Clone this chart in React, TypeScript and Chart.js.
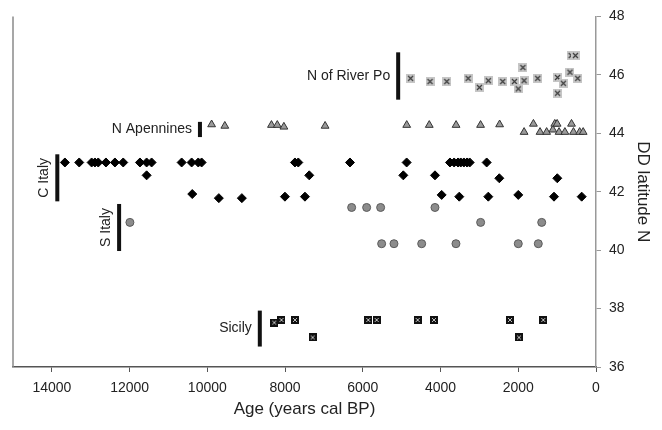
import React, { useEffect, useRef } from 'react';
import { Chart, registerables } from 'chart.js';
Chart.register(...registerables);

// N of River Po (crosses)
const poYears = [4770, 4270, 3840, 3290, 3000, 2770, 2400, 2100, 1880, 1850, 2000, 1500, 990, 840, 990, 670, 470, 640, 530];
const poLat = [45.88, 45.77, 45.77, 45.88, 45.57, 45.80, 45.77, 45.77, 46.25, 45.80, 45.52, 45.88, 45.91, 45.71, 45.37, 46.09, 45.88, 46.66, 46.66];

// N Apennines (triangles)
const apYears = [9890, 9550, 8350, 8200, 8030, 6970, 4870, 4290, 3600, 2970, 2480, 1850, 1610, 1440, 1270, 1110, 1060, 1000, 950, 800, 630, 580, 420, 330];
const apLat = [44.3, 44.25, 44.28, 44.28, 44.22, 44.25, 44.28, 44.28, 44.28, 44.28, 44.3, 44.04, 44.32, 44.04, 44.04, 44.12, 44.32, 44.32, 44.04, 44.04, 44.32, 44.04, 44.04, 44.04];

// C Italy (diamonds)
const ciYears = [13665, 13296, 12977, 12892, 12807, 12609, 12378, 12164, 11734, 11562, 11434, 10661, 10404, 10233, 10147, 7746, 7660, 6330, 4872, 3757, 3650, 3550, 3480, 3400, 3320, 3250, 2813,
  11562, 7378, 4958, 4143,
  2488, 996,
  10388, 9704, 9112, 8003, 7488, 3971, 3518, 2771, 2000, 1081, 368];
const ciLat = [43, 43, 43, 43, 43, 43, 43, 43, 43, 43, 43, 43, 43, 43, 43, 43, 43, 43, 43, 43, 43, 43, 43, 43, 43, 43, 43,
  42.56, 42.56, 42.56, 42.56,
  42.46, 42.46,
  41.92, 41.78, 41.78, 41.83, 41.83, 41.89, 41.83, 41.83, 41.89, 41.83, 41.83];

// S Italy (circles)
const siYears = [11992, 6287, 5901, 5541, 4143, 2968, 1397, 5515, 5198, 4485, 3603, 2000, 1485];
const siLat = [40.95, 41.46, 41.46, 41.46, 41.46, 40.95, 40.95, 40.22, 40.22, 40.22, 40.22, 40.22, 40.22];

// Sicily (squares)
const scYears = [8278, 8093, 7746, 7290, 5859, 5644, 4589, 4169, 2213, 1356, 1981];
const scLat = [37.52, 37.61, 37.61, 37.01, 37.61, 37.61, 37.61, 37.61, 37.61, 37.61, 37.01];

// Region labels with bars
const regionNames = ['N of River Po', 'N Apennines', 'C Italy', 'S Italy', 'Sicily'];
const regionYears = [5090, 10190, 13860, 12270, 8650];
const regionLatTop = [46.77, 44.39, 43.28, 41.58, 37.93];
const regionLatBottom = [45.15, 43.87, 41.67, 39.97, 36.7];
const regionVertical = [false, false, true, true, false];

const xTicks = [0, 2000, 4000, 6000, 8000, 10000, 12000, 14000];
const yTicks = [36, 38, 40, 42, 44, 46, 48];

const FONT = '"Liberation Sans", Arial, sans-serif';

function pts(xs: number[], ys: number[]) {
  return xs.map((x, i) => ({ x, y: ys[i] }));
}

function crossMarker() {
  const c = document.createElement('canvas');
  c.width = 9; c.height = 9;
  const g = c.getContext('2d')!;
  g.fillStyle = '#c6c6c6';
  g.fillRect(0, 0, 9, 9);
  g.strokeStyle = '#3a3a3a';
  g.lineWidth = 1.2;
  g.beginPath();
  g.moveTo(2, 2); g.lineTo(7, 7);
  g.moveTo(7, 2); g.lineTo(2, 7);
  g.stroke();
  return c;
}

function squareMarker() {
  const c = document.createElement('canvas');
  c.width = 8; c.height = 8;
  const g = c.getContext('2d')!;
  g.fillStyle = '#111';
  g.fillRect(0, 0, 8, 8);
  g.strokeStyle = '#bbbbbb';
  g.lineWidth = 1;
  g.beginPath();
  g.moveTo(2, 2); g.lineTo(6, 6);
  g.moveTo(6, 2); g.lineTo(2, 6);
  g.stroke();
  return c;
}

const regionPlugin = {
  id: 'regions',
  afterDatasetsDraw(chart: any) {
    const { ctx, chartArea } = chart;
    const x = chart.scales.x;
    const y = chart.scales.y;
    ctx.save();
    ctx.strokeStyle = '#8a8a8a';
    ctx.lineWidth = 1.5;
    ctx.beginPath();
    ctx.moveTo(chartArea.left, chartArea.top);
    ctx.lineTo(chartArea.left, chartArea.bottom);
    ctx.stroke();
    ctx.font = '14px ' + FONT;
    regionNames.forEach((name, i) => {
      const px = x.getPixelForValue(regionYears[i]);
      const y1 = y.getPixelForValue(regionLatTop[i]);
      const y2 = y.getPixelForValue(regionLatBottom[i]);
      ctx.fillStyle = '#111';
      ctx.fillRect(px - 2, y1, 4, y2 - y1);
      ctx.fillStyle = '#222';
      const cy = (y1 + y2) / 2;
      if (regionVertical[i]) {
        ctx.save();
        ctx.translate(px - 13, cy);
        ctx.rotate(-Math.PI / 2);
        ctx.textAlign = 'center';
        ctx.textBaseline = 'middle';
        ctx.fillText(name, 0, 0);
        ctx.restore();
      } else {
        ctx.textAlign = 'right';
        ctx.textBaseline = 'middle';
        ctx.fillText(name, px - 8, cy);
      }
    });
    ctx.restore();
  },
};

export default function App() {
  const ref = useRef<HTMLCanvasElement | null>(null);
  useEffect(() => {
    if (!ref.current) return;
    const chart = new Chart(ref.current, {
      type: 'scatter',
      data: {
        datasets: [
          { label: 'N of River Po', data: pts(poYears, poLat), pointStyle: crossMarker() as any, pointRadius: 5, clip: false as any },
          { label: 'N Apennines', data: pts(apYears, apLat), pointStyle: 'triangle', pointRadius: 4.5, backgroundColor: '#9a9a9a', borderColor: '#333', borderWidth: 1, clip: false as any },
          { label: 'C Italy', data: pts(ciYears, ciLat), pointStyle: 'rectRot', pointRadius: 4.5, backgroundColor: '#000', borderColor: '#000', borderWidth: 1, clip: false as any },
          { label: 'S Italy', data: pts(siYears, siLat), pointStyle: 'circle', pointRadius: 4, backgroundColor: '#8c8c8c', borderColor: '#5a5a5a', borderWidth: 1, clip: false as any },
          { label: 'Sicily', data: pts(scYears, scLat), pointStyle: squareMarker() as any, pointRadius: 4.5, clip: false as any },
        ],
      },
      options: {
        animation: false,
        responsive: false,
        events: [],
        layout: { padding: { left: 13, top: 14, right: 0, bottom: 0 } },
        plugins: { legend: { display: false }, tooltip: { enabled: false } },
        scales: {
          x: {
            type: 'linear',
            reverse: true,
            min: 0,
            max: 15000,
            afterFit: (s: any) => { s.height = 63; },
            afterBuildTicks: (s: any) => { s.ticks = xTicks.map((v) => ({ value: v })); },
            ticks: { font: { family: FONT, size: 14 }, color: '#222', padding: 8, includeBounds: false, callback: (v: any) => String(v) },
            grid: { display: true, drawOnChartArea: false, drawTicks: true, tickLength: 5, color: '#555' },
            border: { display: true, color: '#555', width: 1.5 },
            title: { display: true, text: 'Age (years cal BP)', font: { family: FONT, size: 17 }, color: '#222', padding: { top: 2, bottom: 10 } },
          },
          y: {
            type: 'linear',
            position: 'right',
            min: 36,
            max: 48,
            afterFit: (s: any) => { s.width = 66; },
            afterBuildTicks: (s: any) => { s.ticks = yTicks.map((v) => ({ value: v })); },
            ticks: { font: { family: FONT, size: 14 }, color: '#222', padding: 8 },
            grid: { display: true, drawOnChartArea: false, drawTicks: true, tickLength: 5, color: '#999' },
            border: { display: true, color: '#999', width: 1.5 },
            title: { display: true, text: 'DD latitude N', font: { family: FONT, size: 17 }, color: '#222', padding: { top: 9, bottom: 0 } },
          },
        },
      },
      plugins: [regionPlugin],
    } as any);
    return () => chart.destroy();
  }, []);
  return (
    <div style={{ position: 'absolute', left: 0, top: 0, width: 662, height: 430, background: '#fff' }}>
      <canvas ref={ref} width={662} height={430} style={{ display: 'block' }} />
    </div>
  );
}
